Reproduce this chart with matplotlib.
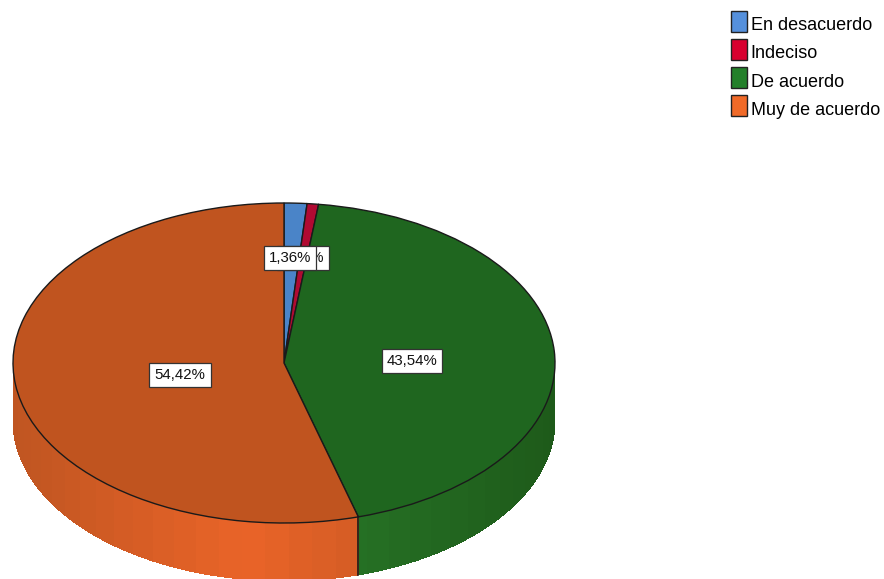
import numpy as np
import matplotlib
matplotlib.use("Agg")
import matplotlib.pyplot as plt
from matplotlib.patches import Patch
from matplotlib.colors import to_rgb

categories = ["En desacuerdo", "Indeciso", "De acuerdo", "Muy de acuerdo"]
values = [1.36, 0.68, 43.54, 54.42]
labels = ["1,36%", "0,68%", "43,54%", "54,42%"]
top_colors = ["#4a84c8", "#b00a32", "#1f661f", "#c0541f"]
legend_colors = ["#5590dc", "#d8002f", "#23802a", "#f06a28"]
side_dark = ["#3a6aa0", "#80061f", "#1e5a1a", "#b0501f"]
side_light = ["#4a84c8", "#b00a32", "#2a7d2a", "#ea6428"]

W, H = 884, 579
cx, cy, a, b, depth = 284, 363, 271, 160, 58
plt.rcParams['font.family'] = ['Liberation Sans', 'DejaVu Sans']
fig = plt.figure(figsize=(W/100, H/100), dpi=100)
ax = fig.add_axes([0, 0, 1, 1])

d = depth / b
edges = 90 - np.cumsum([0] + values) * 3.6
for i in range(len(values)):
    t0, t1 = edges[i], edges[i+1]
    th = np.arange(t0, t1 - 1e-9, -5.0)
    th = np.append(th, t1)
    th = th[np.sin(np.radians(th)) <= 1e-9]
    if len(th) < 2:
        continue
    c0, c1 = np.array(to_rgb(side_dark[i])), np.array(to_rgb(side_light[i]))
    for p, q in zip(th[:-1], th[1:]):
        m = np.radians((p + q) / 2)
        w = np.clip(1 - abs(np.cos(m) + 0.15) / 1.15, 0, 1)
        col = c0 + (c1 - c0) * w
        tt = np.radians(np.linspace(p, q, 8))
        xs = np.cos(tt)
        ys = np.sin(tt)
        ax.fill(np.r_[xs, xs[::-1]], np.r_[ys, ys[::-1] - d],
                color=col, lw=0, antialiased=False, zorder=1)

wedges, _ = ax.pie(values, startangle=90, counterclock=False, colors=top_colors,
                   wedgeprops=dict(edgecolor="#1a1a1a", linewidth=1.0))
for w in wedges:
    w.set_zorder(2)

sep = np.radians(edges[3])
ax.plot([np.cos(sep)]*2, [np.sin(sep), np.sin(sep)-d], color="#1a1a1a", lw=1.2, zorder=3)

ax.set_aspect('auto')
ax.set_xlim(-cx/a, (W-cx)/a)
ax.set_ylim((cy-H)/b, cy/b)
ax.axis('off')

label_px = [(290, 258), (303, 258), (412, 361), (180, 375)]
order = [1, 0, 2, 3]
for z, i in enumerate(order):
    x = (label_px[i][0]-cx)/a
    y = (cy-label_px[i][1])/b
    ax.text(x, y, labels[i], ha='center', va='center', fontsize=10.8, color="#111111", zorder=5+z,
            bbox=dict(boxstyle='square,pad=0.34', fc='white', ec='#333333', lw=0.9))

handles = [Patch(facecolor=c, edgecolor="#222222", lw=1.0) for c in legend_colors]
leg = fig.legend(handles, categories, loc='upper left', bbox_to_anchor=(731/W, 1-11/H),
                 bbox_transform=fig.transFigure, frameon=False, fontsize=13,
                 handlelength=0.9, handleheight=1.41, handletextpad=0.2,
                 labelspacing=0.39, borderpad=0, borderaxespad=0)
for t in leg.get_texts():
    t.set_y(-3)
fig.savefig("out.png", dpi=100)
